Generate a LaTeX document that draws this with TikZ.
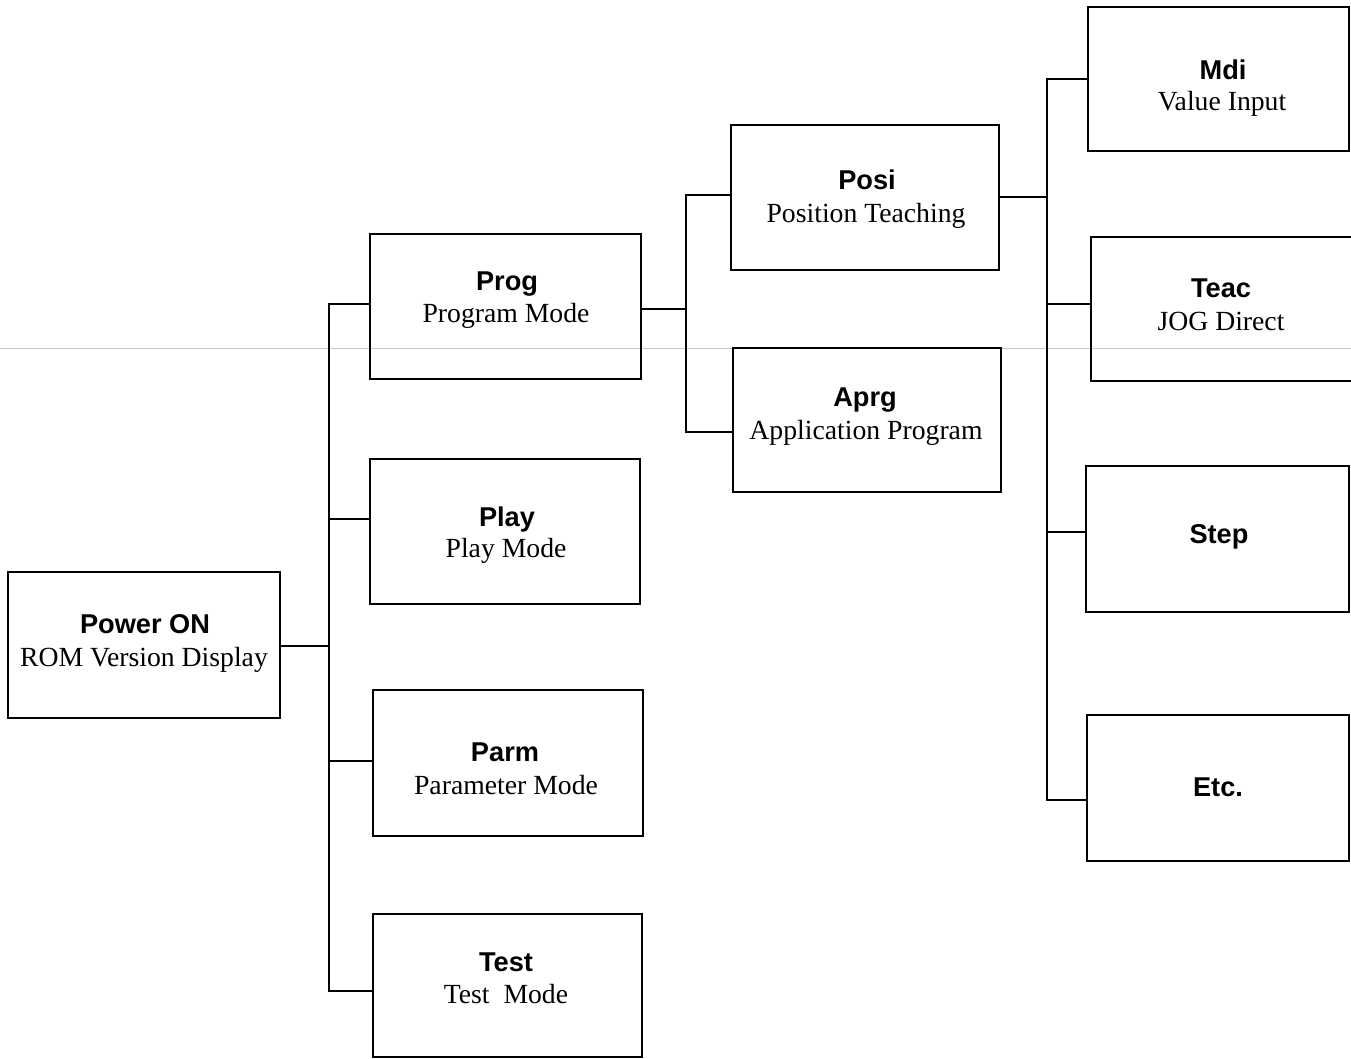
\documentclass[tikz,border=0pt]{standalone}
\usepackage{fontspec}
\setmainfont{Liberation Serif}
\newfontfamily\headfont{Liberation Sans}
\usetikzlibrary{calc}

\begin{document}
\begin{tikzpicture}[x=1pt,y=-1pt,
  box/.style={draw, line width=1.8pt, inner sep=0pt, outer sep=0pt},
  wire/.style={line width=1.7pt, line join=miter},
  ttl/.style={anchor=base, inner sep=0pt, font=\headfont\bfseries\fontsize{27.2}{30}\selectfont},
  sub/.style={anchor=base, inner sep=0pt, font=\fontsize{27.7}{30}\selectfont},
  scanline/.style={draw=gray!45, line width=0.9pt}]

\useasboundingbox (0,0) rectangle (1351,1059);

% faint full-width rule across the sheet
\draw[scanline] (0,348) -- (1351,348);

% ---- boxes ----
\node[box, minimum width=272pt, minimum height=146pt] (pwr)  at (144,645)    {};
\node[box, minimum width=271pt, minimum height=145pt] (prog) at (505.5,306.5) {};
\node[box, minimum width=270pt, minimum height=145pt] (play) at (505,531.5)  {};
\node[box, minimum width=270pt, minimum height=146pt] (parm) at (508,763)    {};
\node[box, minimum width=269pt, minimum height=143pt] (test) at (507.5,985.5) {};
\node[box, minimum width=268pt, minimum height=145pt] (posi) at (865,197.5)  {};
\node[box, minimum width=268pt, minimum height=144pt] (aprg) at (867,420)    {};
\node[box, minimum width=261pt, minimum height=144pt] (mdi)  at (1218.5,79)  {};
\node[box, minimum width=263pt, minimum height=144pt] (teac) at (1222.5,309) {};
\node[box, minimum width=263pt, minimum height=146pt] (step) at (1217.5,539) {};
\node[box, minimum width=262pt, minimum height=146pt] (etc)  at (1218,788)   {};

% ---- labels ----
\node[ttl] (pwrT)  at (145,633)  {Power ON};
\node[sub] (pwrS)  at (144,666)  {ROM Version Display};
\node[ttl] (progT) at (507,290)  {Prog};
\node[sub] (progS) at (506,322)  {Program Mode};
\node[ttl] (playT) at (507,526)  {Play};
\node[sub] (playS) at (506,557)  {Play Mode};
\node[ttl] (parmT) at (505,761)  {Parm};
\node[sub] (parmS) at (506,794)  {Parameter Mode};
\node[ttl] (testT) at (506,971)  {Test};
\node[sub] (testS) at (506,1003) {Test\ \ Mode};
\node[ttl] (posiT) at (867,190)  {Posi};
\node[sub] (posiS) at (866,223)  {Position Teaching};
\node[ttl] (aprgT) at (865,406)  {Aprg};
\node[sub] (aprgS) at (866,439)  {Application Program};
\node[ttl] (mdiT)  at (1223,80)  {Mdi};
\node[sub] (mdiS)  at (1222,111) {Value Input};
\node[ttl] (teacT) at (1221,297) {Teac};
\node[sub] (teacS) at (1221,330) {JOG Direct};
\node[ttl] (stepT) at (1219,543) {Step};
\node[ttl] (etcT)  at (1218,796) {Etc.};

% ---- junction points ----
\coordinate (b1in)   at (329,646);
\coordinate (b1prog) at (329,304);
\coordinate (b1play) at (329,519);
\coordinate (b1parm) at (329,761);
\coordinate (b1test) at (329,991);

\coordinate (b2in)   at (686,309);
\coordinate (b2posi) at (686,195);
\coordinate (b2aprg) at (686,432);

\coordinate (b3in)   at (1047,197);
\coordinate (b3mdi)  at (1047,79);
\coordinate (b3teac) at (1047,304);
\coordinate (b3step) at (1047,532);
\coordinate (b3etc)  at (1047,800);

% ---- level 1: Power ON to the modes ----
\draw[wire] (pwr.east |- b1in) -- (b1in);
\draw[wire] (prog.west |- b1prog) -- (b1prog) -- (b1test) -- (test.west |- b1test);
\draw[wire] (b1play) -- (play.west |- b1play);
\draw[wire] (b1parm) -- (parm.west |- b1parm);

% ---- level 2: Prog to its sub-modes ----
\draw[wire] (prog.east |- b2in) -- (b2in);
\draw[wire] (posi.west |- b2posi) -- (b2posi) -- (b2aprg) -- (aprg.west |- b2aprg);

% ---- level 3: Posi to its sub-modes ----
\draw[wire] (posi.east |- b3in) -- (b3in);
\draw[wire] (mdi.west |- b3mdi) -- (b3mdi) -- (b3etc) -- (etc.west |- b3etc);
\draw[wire] (b3teac) -- (teac.west |- b3teac);
\draw[wire] (b3step) -- (step.west |- b3step);

\end{tikzpicture}
\end{document}
